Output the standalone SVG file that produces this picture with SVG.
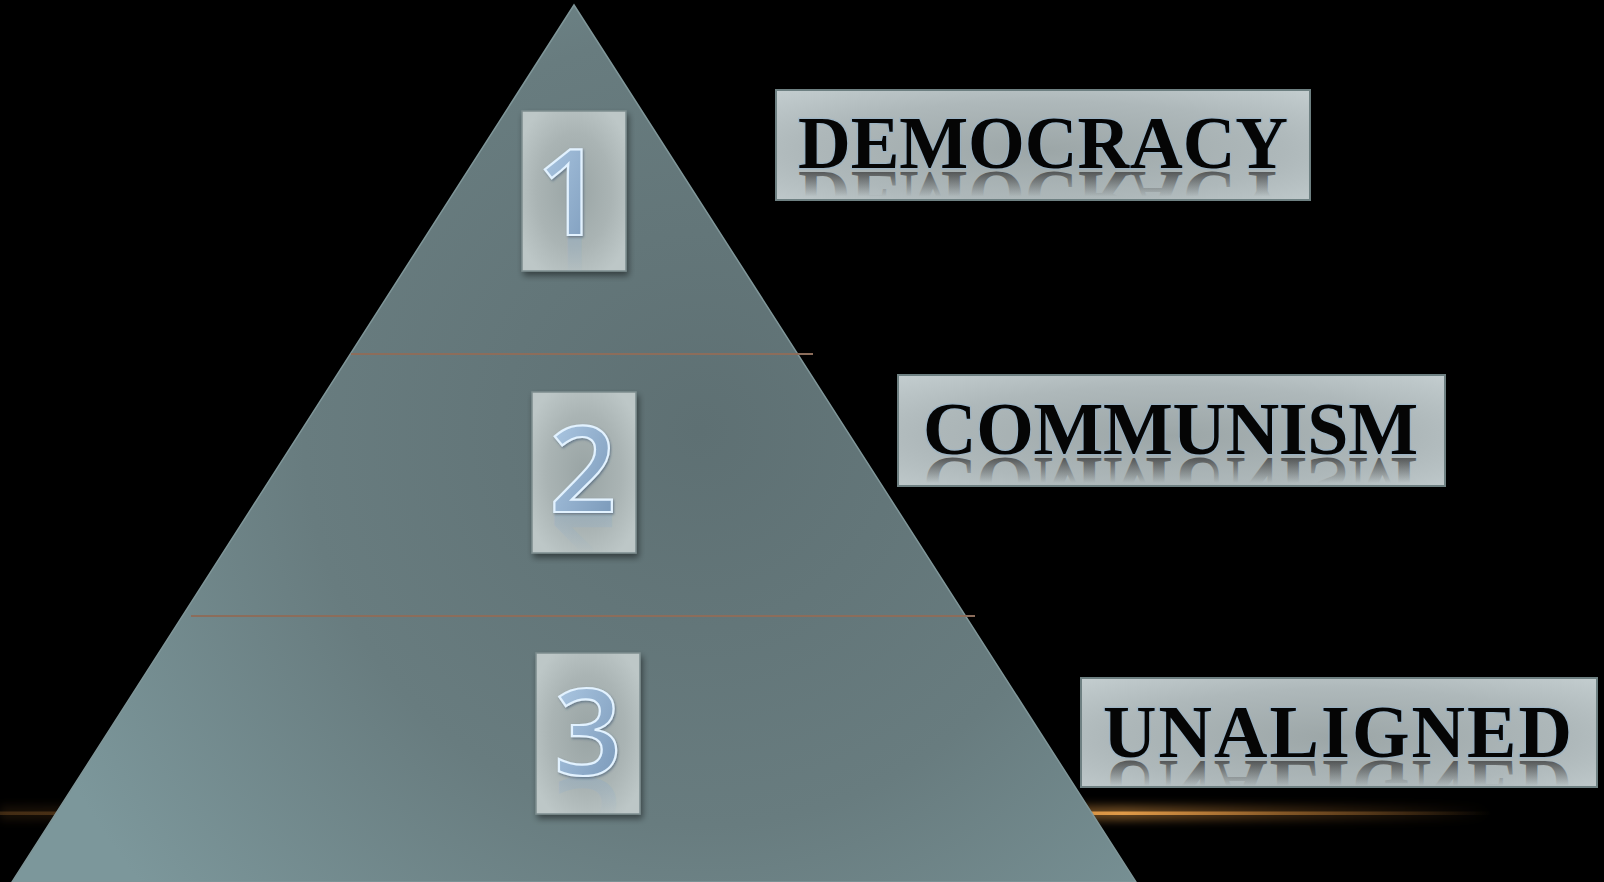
<svg xmlns="http://www.w3.org/2000/svg" xmlns:xlink="http://www.w3.org/1999/xlink" width="1604" height="882" viewBox="0 0 1604 882">
  <defs>
    <style>
      .lblfont { font-family: "Liberation Serif", "Times New Roman", serif; font-weight: bold; }
      .lbl { fill: #050505; stroke: #8fb0cc; stroke-width: 2.5; stroke-opacity: 0.55; paint-order: stroke; }
      .refl { fill: url(#reflGrad); stroke: none; }
      .lblbox { fill: url(#lblGrad); stroke: #6e8082; stroke-width: 2; }
      .numbox { fill: url(#numGrad); stroke: #7d8d8f; stroke-width: 1.5; filter: url(#shadow); }
      .digfont { font-family: "Open Sans", "Liberation Sans", sans-serif; font-size: 119px; font-weight: 600; text-anchor: middle; }
      .digit { fill: url(#digitGrad); stroke: #e2f2ff; stroke-width: 2.2; filter: url(#digShadow); }
      .digitrefl { fill: url(#digitReflGrad); stroke: none; }
      .divider { stroke: #8c6d5b; stroke-width: 2; }
      .divshadow { stroke: #2a3436; stroke-width: 4; stroke-opacity: 0.35; filter: url(#blur2); }
    </style>
    <radialGradient id="triGrad" gradientUnits="userSpaceOnUse" cx="700" cy="430" r="720">
      <stop offset="0" stop-color="#5e7073"/>
      <stop offset="0.55" stop-color="#687c7f"/>
      <stop offset="1" stop-color="#7c979b"/>
    </radialGradient>
    <radialGradient id="lblGrad" cx="0.5" cy="0.55" r="0.75">
      <stop offset="0" stop-color="#9ca6a7"/>
      <stop offset="0.6" stop-color="#aeb8ba"/>
      <stop offset="1" stop-color="#c4ced0"/>
    </radialGradient>
    <radialGradient id="numGrad" cx="0.5" cy="0.5" r="0.6">
      <stop offset="0" stop-color="#99a4a4"/>
      <stop offset="0.6" stop-color="#aab4b4"/>
      <stop offset="1" stop-color="#bdc7c7"/>
    </radialGradient>
    <linearGradient id="reflGrad" x1="0" y1="0" x2="0" y2="1">
      <stop offset="0" stop-color="#444" stop-opacity="0"/>
      <stop offset="0.5" stop-color="#444" stop-opacity="0"/>
      <stop offset="0.8" stop-color="#3a3a3a" stop-opacity="0.75"/>
      <stop offset="1" stop-color="#3a3a3a" stop-opacity="0.8"/>
    </linearGradient>
    <linearGradient id="digitGrad" x1="0" y1="0" x2="1" y2="1">
      <stop offset="0" stop-color="#b4cfe9"/>
      <stop offset="1" stop-color="#7392b3"/>
    </linearGradient>
    <linearGradient id="digitReflGrad" x1="0" y1="0" x2="0" y2="1">
      <stop offset="0" stop-color="#8fb0d0" stop-opacity="0"/>
      <stop offset="0.55" stop-color="#8fb0d0" stop-opacity="0"/>
      <stop offset="0.85" stop-color="#8aa8c4" stop-opacity="0.45"/>
      <stop offset="1" stop-color="#8aa8c4" stop-opacity="0.5"/>
    </linearGradient>
    <linearGradient id="glowGrad" gradientUnits="userSpaceOnUse" x1="0" y1="0" x2="1604" y2="0">
      <stop offset="0" stop-color="#c8843a" stop-opacity="0.25"/>
      <stop offset="0.5" stop-color="#c8843a" stop-opacity="0.6"/>
      <stop offset="0.7" stop-color="#e09a48" stop-opacity="1"/>
      <stop offset="0.8" stop-color="#c8843a" stop-opacity="0.55"/>
      <stop offset="0.93" stop-color="#c8843a" stop-opacity="0"/>
    </linearGradient>
    <filter id="shadow" x="-20%" y="-20%" width="150%" height="150%">
      <feDropShadow dx="2" dy="4" stdDeviation="3" flood-color="#000" flood-opacity="0.45"/>
    </filter>
    <filter id="digShadow" x="-20%" y="-20%" width="140%" height="140%">
      <feDropShadow dx="1" dy="1.5" stdDeviation="1" flood-color="#3d5570" flood-opacity="0.6"/>
    </filter>
    <filter id="blur2" x="-5%" y="-200%" width="110%" height="500%">
      <feGaussianBlur stdDeviation="2"/>
    </filter>
    <filter id="glowBlur" x="-5%" y="-300%" width="110%" height="700%">
      <feGaussianBlur stdDeviation="5"/>
    </filter>
    <clipPath id="clipL1"><rect x="776" y="90" width="534" height="110"/></clipPath>
    <clipPath id="clipL2"><rect x="898" y="375" width="547" height="111"/></clipPath>
    <clipPath id="clipL3"><rect x="1081" y="678" width="516" height="109"/></clipPath>
    <clipPath id="clipN1"><rect x="522" y="111" width="104" height="160"/></clipPath>
    <clipPath id="clipN2"><rect x="532" y="392" width="104" height="161"/></clipPath>
    <clipPath id="clipN3"><rect x="536" y="653" width="104" height="161"/></clipPath>
    <text id="d1" class="digfont" x="570" y="235">1</text>
    <text id="d2" class="digfont" x="583" y="512">2</text>
    <text id="d3" class="digfont" x="588" y="775">3</text>
    <text id="t1" class="lblfont" x="798" y="168" font-size="73" textLength="490" lengthAdjust="spacing">DEMOCRACY</text>
    <text id="t2" class="lblfont" x="923" y="454" font-size="74" textLength="495" lengthAdjust="spacing">COMMUNISM</text>
    <text id="t3" class="lblfont" x="1103" y="757" font-size="74" textLength="469" lengthAdjust="spacing">UNALIGNED</text>
  </defs>

  <rect id="background" x="0" y="0" width="1604" height="882" fill="#000"/>

  <g id="glow">
    <rect x="0" y="806" width="1604" height="14" fill="url(#glowGrad)" opacity="0.5" filter="url(#glowBlur)"/>
    <rect x="0" y="811.5" width="1604" height="3.5" fill="url(#glowGrad)"/>
  </g>

  <g id="pyramid">
    <polygon points="574,5 12,882 1136,882" fill="url(#triGrad)" stroke="#7f9699" stroke-width="1.5"/>
  </g>

  <g id="connectors">
    <line class="divshadow" x1="353" y1="358" x2="800" y2="358"/>
    <line class="divider" x1="351" y1="354" x2="813" y2="354"/>
    <line class="divshadow" x1="193" y1="620" x2="965" y2="620"/>
    <line class="divider" x1="191" y1="616" x2="975" y2="616"/>
  </g>

  <g id="tier-1">
    <rect class="numbox" x="522" y="111" width="104" height="160"/>
    <g clip-path="url(#clipN1)">
      <use xlink:href="#d1" href="#d1" class="digitrefl" transform="translate(0,473) scale(1,-1)"/>
    </g>
    <use xlink:href="#d1" href="#d1" class="digit"/>
  </g>

  <g id="tier-2">
    <rect class="numbox" x="532" y="392" width="104" height="161"/>
    <g clip-path="url(#clipN2)">
      <use xlink:href="#d2" href="#d2" class="digitrefl" transform="translate(0,1027) scale(1,-1)"/>
    </g>
    <use xlink:href="#d2" href="#d2" class="digit"/>
  </g>

  <g id="tier-3">
    <rect class="numbox" x="536" y="653" width="104" height="161"/>
    <g clip-path="url(#clipN3)">
      <use xlink:href="#d3" href="#d3" class="digitrefl" transform="translate(0,1553) scale(1,-1)"/>
    </g>
    <use xlink:href="#d3" href="#d3" class="digit"/>
  </g>

  <g id="label-democracy">
    <rect class="lblbox" x="776" y="90" width="534" height="110"/>
    <g clip-path="url(#clipL1)">
      <use xlink:href="#t1" href="#t1" class="refl" transform="translate(0,340) scale(1,-1)"/>
    </g>
    <use xlink:href="#t1" href="#t1" class="lbl"/>
  </g>

  <g id="label-communism">
    <rect class="lblbox" x="898" y="375" width="547" height="111"/>
    <g clip-path="url(#clipL2)">
      <use xlink:href="#t2" href="#t2" class="refl" transform="translate(0,912) scale(1,-1)"/>
    </g>
    <use xlink:href="#t2" href="#t2" class="lbl"/>
  </g>

  <g id="label-unaligned">
    <rect class="lblbox" x="1081" y="678" width="516" height="109"/>
    <g clip-path="url(#clipL3)">
      <use xlink:href="#t3" href="#t3" class="refl" transform="translate(0,1518) scale(1,-1)"/>
    </g>
    <use xlink:href="#t3" href="#t3" class="lbl"/>
  </g>
</svg>
